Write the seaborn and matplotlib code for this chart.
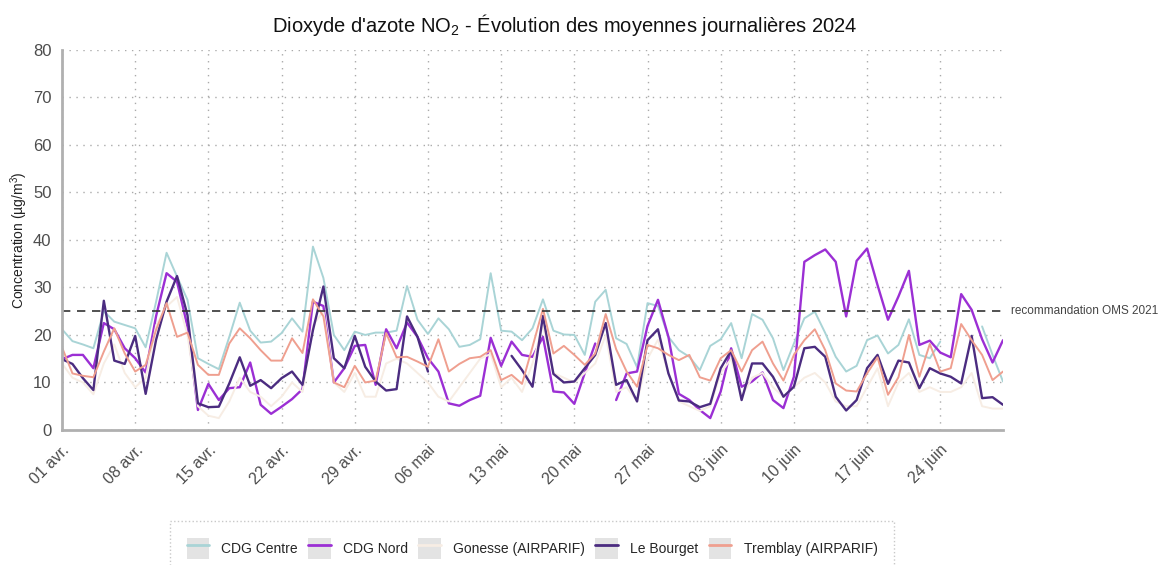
import numpy as np
import pandas as pd
import matplotlib
matplotlib.use("Agg")
import matplotlib.pyplot as plt
import seaborn as sns
from matplotlib.lines import Line2D
from matplotlib.patches import Patch
from matplotlib.legend_handler import HandlerTuple

nan = np.nan

# daily NO2 means, 01/04/2024 -> 30/06/2024 (µg/m3)
dates = pd.date_range("2024-04-01", "2024-06-30", freq="D")

cdg_centre = [21.2, 18.7, 18.0, 17.2, 25.0, 22.8, 22.1, 21.4, 17.4, 27.0,
              37.3, 32.3, 27.4, 15.1, 13.9, 12.8, 19.6, 26.8, 20.9, 18.4,
              18.6, 20.4, 23.5, 20.7, 38.6, 32.0, 20.0, 16.8, 20.7, 20.0,
              20.5, 20.5, 20.9, 30.3, 23.2, 20.2, 23.5, 21.2, 17.5, 17.9,
              19.1, 33.0, 20.9, 20.7, 18.9, 21.4, 27.5, 20.9, 20.1, 20.0,
              15.8, 27.0, 29.5, 19.3, 18.1, 13.2, 26.7, 26.1, 19.6, 16.8,
              15.4, 12.6, 17.7, 19.1, 22.5, 15.1, 24.4, 23.2, 19.3, 12.6,
              18.2, 23.5, 24.9, 20.4, 15.4, 12.3, 13.5, 18.9, 19.9, 16.1,
              17.9, 23.3, 15.8, 15.1, 18.6, nan, nan, nan, 21.8, 15.8, 10.2]

cdg_nord = [14.9, 15.8, 15.8, 13.0, 22.5, 21.2, 17.2, 15.1, 12.1, 24.0,
            33.0, 31.2, 21.8, 4.2, 9.7, 6.3, 8.8, 9.0, 14.2, 5.3,
            3.4, 4.9, 6.5, 8.6, 27.0, 26.1, 10.0, 13.0, 17.7, 17.9,
            9.5, 21.2, 17.2, 22.6, 19.6, 15.1, 12.3, 5.6, 5.1, 6.3,
            7.2, 19.4, 13.5, 18.6, 15.8, 15.4, 19.6, 8.1, 7.9, 5.5,
            12.0, 18.2, nan, 6.3, 11.9, 12.3, 21.9, 27.4, 19.6, 7.6,
            6.3, 4.2, 2.5, 8.1, 17.2, 9.1, 10.2, 12.1, 6.3, 4.6,
            11.2, 35.4, 36.8, 38.0, 35.4, 23.9, 35.6, 38.2, 30.5, 23.2,
            28.1, 33.5, 17.9, 18.8, 16.3, 15.3, 28.6, 25.3, 19.1, 14.2, 18.9]

gonesse = [14, 11, 10, 7.5, 14, 18, 12, 9, 11, 22,
           26, 28, 20, 5, 3, 2.5, 6, 11, 8, 7,
           5, 7, 10, 8, 22, 25, 10, 8, 12, 7,
           7, 14, 15, 14, 12, 10, 7, 6, 9, 12,
           15, 16, 9, 11, 8, 14, 22, 12, 11, 10,
           12, 14, 20, 8, 9, 6, 15, 19, 12, 6,
           5, 4, 5, 12, 15, 7, 11, 12, 9, 7,
           9, 11, 12, 10, 6, 5, 5, 9, 13, 5,
           10, 12, 8, 9, 8, 8, 9, 12, 5, 4.5, 4.5]

le_bourget = [14.9, 13.9, 10.9, 8.4, 27.2, 14.6, 13.9, 19.8, 7.6, 19.0,
              27.0, 32.4, 24.2, 5.6, 4.8, 4.9, 9.8, 15.3, 9.3, 10.5,
              8.8, 10.9, 12.3, 9.5, 21.0, 30.2, 15.1, 13.0, 19.8, 13.3,
              10.2, 8.3, 8.6, 23.9, 19.6, 12.3, nan, nan, nan, nan,
              nan, nan, nan, 15.6, 12.6, 9.1, 24.0, 11.8, 10.0, 10.2,
              13.0, 15.8, 22.5, 9.5, 10.5, 6.0, 18.9, 21.2, 11.9, 6.2,
              6.0, 4.8, 5.5, 13.0, 16.7, 6.3, 14.0, 14.0, 11.2, 7.0,
              9.1, 17.2, 17.5, 15.4, 7.0, 4.1, 6.3, 13.0, 15.8, 9.7,
              14.6, 14.2, 8.8, 13.0, 11.9, 11.2, 9.8, 19.8, 6.7, 6.9, 5.3]

tremblay = [17.4, 11.9, 11.4, 11.1, 16.5, 21.4, 16.1, 12.3, 13.7, 21.1,
            26.7, 19.6, 20.5, 13.7, 11.6, 11.6, 18.2, 21.4, 19.3, 16.8,
            14.6, 14.6, 19.3, 16.2, 27.5, 23.9, 10.0, 9.0, 13.5, 10.0,
            10.4, 20.4, 15.3, 15.4, 14.4, 13.3, 19.1, 12.3, 13.9, 15.1,
            15.4, 16.8, 10.5, 11.6, 9.7, 17.5, 25.5, 16.1, 17.7, 15.8,
            13.7, 16.1, 24.4, 17.0, 12.3, 9.1, 17.9, 17.2, 15.8, 14.7,
            15.8, 11.1, 10.4, 15.1, 16.8, 12.3, 16.8, 18.6, 14.0, 10.4,
            15.8, 18.9, 21.2, 16.8, 9.8, 8.3, 8.1, 11.9, 15.3, 7.4,
            11.1, 20.0, 11.2, 18.1, 12.3, 13.0, 22.3, 18.9, 15.8, 10.5, 12.3]

stations = ["CDG Centre", "CDG Nord", "Gonesse (AIRPARIF)", "Le Bourget", "Tremblay (AIRPARIF)"]
colors = ["#a9d4d6", "#9b2fd4", "#f7ede4", "#4b2c80", "#ef9f8f"]
widths = [1.4, 1.7, 1.4, 1.7, 1.4]

oms_limit = 25
tick_dates = pd.date_range("2024-04-01", "2024-06-24", freq="7D")
tick_labels = ["01 avr.", "08 avr.", "15 avr.", "22 avr.", "29 avr.", "06 mai", "13 mai",
               "20 mai", "27 mai", "03 juin", "10 juin", "17 juin", "24 juin"]

# long format; a new unit id after every gap so missing days stay missing
frames = []
for name, vals in zip(stations, [cdg_centre, cdg_nord, gonesse, le_bourget, tremblay]):
    d = pd.DataFrame({"date": dates, "value": vals, "station": name})
    d["seg"] = name + d["value"].isna().cumsum().astype(str)
    frames.append(d.dropna())
df = pd.concat(frames, ignore_index=True)

sns.set_style("white")
plt.rcParams["font.family"] = ["Liberation Sans", "DejaVu Sans"]
plt.rcParams["mathtext.default"] = "regular"

fig = plt.figure(figsize=(11.59, 5.65), dpi=100)
ax = fig.add_axes([0.0535, 0.239, 0.8119, 0.6726])

for name, c, lw in zip(stations, colors, widths):
    sns.lineplot(data=df[df["station"] == name], x="date", y="value", units="seg",
                 estimator=None, color=c, linewidth=lw, ax=ax, legend=False)

ax.axhline(oms_limit, color="#333333", linestyle=(0, (5, 4)), linewidth=1.2)
ax.text(1.008, oms_limit, "recommandation OMS 2021", transform=ax.get_yaxis_transform(),
        va="center", ha="left", fontsize=8.5, color="#444444")

ax.set_xlim(dates[0], dates[-1])
ax.set_ylim(0, 80)
ax.set_yticks(range(0, 81, 10))
ax.set_xticks(tick_dates)
ax.set_xticklabels(tick_labels, rotation=45, ha="right", rotation_mode="anchor")
ax.tick_params(axis="both", colors="#333333", labelcolor="#4d4d4d", length=4, width=1.2)
ax.tick_params(axis="y", labelsize=12)
ax.tick_params(axis="x", labelsize=11.5, pad=5)
ax.grid(True, linestyle=(0, (1, 4)), color="#aaaaaa", linewidth=1)
for s in ["top", "right"]:
    ax.spines[s].set_visible(False)
for s in ["left", "bottom"]:
    ax.spines[s].set_color("#b0b0b0")
    ax.spines[s].set_linewidth(2)
ax.set_xlabel("")
ax.set_ylabel("Concentration (µg/m$^3$)", fontsize=10, color="#222222", labelpad=2)

fig.text(565 / 1159, 1 - 25 / 565, "Dioxyde d'azote NO$_2$ - Évolution des moyennes journalières 2024",
         ha="center", va="center", fontsize=14.5, color="#111111")

handles = [(Patch(facecolor="#e3e3e3", edgecolor="none"), Line2D([], [], color=c, linewidth=2))
           for c in colors]
leg = fig.legend(handles, stations, handler_map={tuple: HandlerTuple(ndivide=1, pad=0)},
                 loc="upper center", bbox_to_anchor=(532 / 1159, 1 - 514 / 565), ncol=5,
                 fontsize=10, handlelength=1.6, handleheight=2.0, columnspacing=0.75,
                 handletextpad=0.9, borderpad=1.2, fancybox=False, frameon=True)
frame = leg.get_frame()
frame.set_linestyle(":")
frame.set_edgecolor("#bbbbbb")
frame.set_linewidth(1)

fig.savefig("out.png", dpi=100, facecolor="white")
